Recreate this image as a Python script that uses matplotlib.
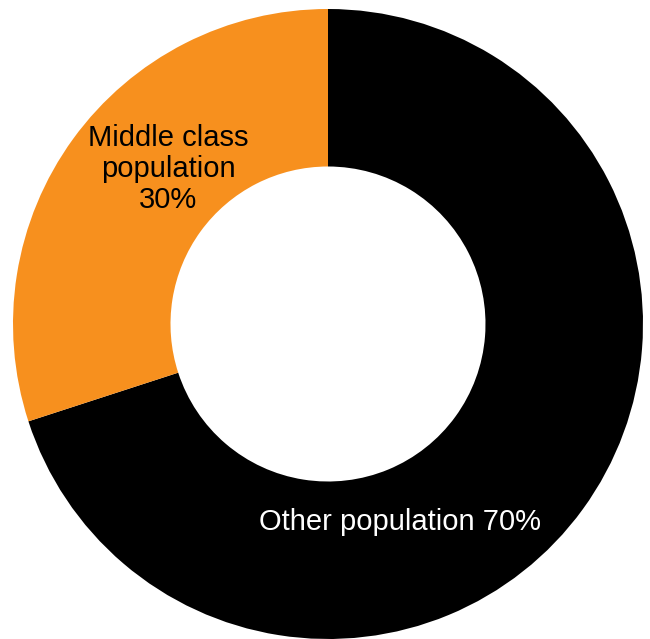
import matplotlib
matplotlib.use("Agg")
import matplotlib.pyplot as plt

labels = ["Other population 70%", "Middle class\npopulation\n30%"]
shares = [70, 30]
colors = ["#000000", "#F7901E"]

fig = plt.figure(figsize=(6.5, 6.39), dpi=100)
ax = fig.add_axes([0, 0, 1, 1])

wedges, _ = ax.pie(shares, colors=colors, startangle=90, counterclock=False,
                   radius=1.0, wedgeprops=dict(width=0.5, linewidth=0))

# labels placed by hand like the original
ax.text(0.229, -0.629, labels[0], color="white", fontsize=21,
        family="Liberation Sans", ha="center", va="center")
ax.text(-0.508, 0.492, labels[1], color="black", fontsize=21,
        family="Liberation Sans", ha="center", va="center", linespacing=1.12)

ax.set_xlim(-328 / 315, 322 / 315)
ax.set_ylim(-1.0, 324 / 315)
ax.set_aspect("equal")
ax.axis("off")

fig.savefig("out.png", dpi=100)
